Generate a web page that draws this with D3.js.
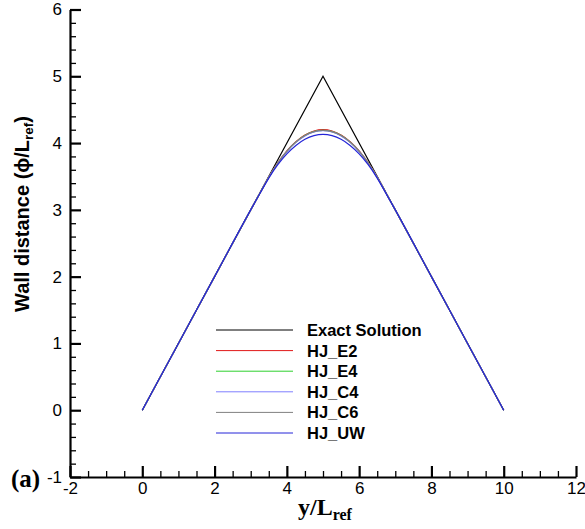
<!DOCTYPE html>
<html>
<head>
<meta charset="utf-8">
<script src="https://cdn.jsdelivr.net/npm/d3@7"></script>
<style>
  html, body { margin: 0; padding: 0; background: #fff; }
  svg { display: block; }
  .tick text { font-family: "Liberation Sans", Arial, sans-serif; font-size: 17px; fill: #000; }
</style>
</head>
<body>
<svg id="chart" width="585" height="529"></svg>
<script>
// Wall distance along y for the ridge test case
const exactX = [0, 5, 10];
const exactPhi = [0, 5, 0];

const gridX = [0, 1, 2, 3, 3.25, 3.5, 3.75, 4, 4.25, 4.5, 4.75, 5, 5.25, 5.5, 5.75, 6, 6.25, 6.5, 6.75, 7, 8, 9, 10];
const phiE2 = [0, 1, 2, 3, 3.245, 3.490, 3.706, 3.884, 4.022, 4.121, 4.180, 4.200, 4.180, 4.121, 4.022, 3.884, 3.706, 3.490, 3.245, 3, 2, 1, 0];
const phiE4 = [0, 1, 2, 3, 3.244, 3.488, 3.702, 3.877, 4.014, 4.112, 4.171, 4.190, 4.171, 4.112, 4.014, 3.877, 3.702, 3.488, 3.244, 3, 2, 1, 0];
const phiC4 = [0, 1, 2, 3, 3.244, 3.487, 3.700, 3.874, 4.010, 4.107, 4.166, 4.185, 4.166, 4.107, 4.010, 3.874, 3.700, 3.487, 3.244, 3, 2, 1, 0];
const phiC6 = [0, 1, 2, 3, 3.244, 3.488, 3.702, 3.877, 4.014, 4.112, 4.171, 4.190, 4.171, 4.112, 4.014, 3.877, 3.702, 3.488, 3.244, 3, 2, 1, 0];
const phiUW = [0, 1, 2, 3, 3.240, 3.476, 3.676, 3.838, 3.964, 4.056, 4.111, 4.130, 4.111, 4.056, 3.964, 3.838, 3.676, 3.476, 3.240, 3, 2, 1, 0];

const seriesNames = ["Exact Solution", "HJ_E2", "HJ_E4", "HJ_C4", "HJ_C6", "HJ_UW"];
const seriesColors = ["#000000", "#e01818", "#2ed02e", "#7f7fff", "#808080", "#2424d8"];

const xMajor = [-2, 0, 2, 4, 6, 8, 10, 12];
const yMajor = [-1, 0, 1, 2, 3, 4, 5, 6];

const svg = d3.select("#chart");
const x = d3.scaleLinear().domain([-2, 12]).range([70, 576]);
const y = d3.scaleLinear().domain([-1, 6]).range([477, 9.5]);

const series = [
  { name: seriesNames[0], color: seriesColors[0], xs: exactX, ys: exactPhi, curve: d3.curveLinear },
  { name: seriesNames[1], color: seriesColors[1], xs: gridX, ys: phiE2, curve: d3.curveMonotoneX },
  { name: seriesNames[2], color: seriesColors[2], xs: gridX, ys: phiE4, curve: d3.curveMonotoneX },
  { name: seriesNames[3], color: seriesColors[3], xs: gridX, ys: phiC4, curve: d3.curveMonotoneX },
  { name: seriesNames[4], color: seriesColors[4], xs: gridX, ys: phiC6, curve: d3.curveMonotoneX },
  { name: seriesNames[5], color: seriesColors[5], xs: gridX, ys: phiUW, curve: d3.curveMonotoneX }
];

// Curves
const plot = svg.append("g");
series.forEach(s => {
  const pts = s.xs.map((v, i) => [v, s.ys[i]]);
  const line = d3.line().x(d => x(d[0])).y(d => y(d[1])).curve(s.curve);
  plot.append("path")
    .attr("d", line(pts))
    .attr("fill", "none")
    .attr("stroke", s.color)
    .attr("stroke-width", 1.2);
});

const plainFormat = d => String(d);

// Minor ticks
const xMinor = d3.range(-2, 12.001, 0.5).filter(v => !xMajor.includes(v));
const yMinor = d3.range(-1, 6.001, 0.2).map(v => Math.round(v * 10) / 10).filter(v => !yMajor.includes(v));

svg.append("g")
  .attr("transform", "translate(0,477)")
  .call(d3.axisBottom(x).tickValues(xMinor).tickSize(-6).tickSizeOuter(0).tickFormat(""))
  .call(g => g.select(".domain").remove())
  .call(g => g.selectAll("line").attr("stroke", "#000").attr("stroke-width", 1.3));

svg.append("g")
  .attr("transform", "translate(70,0)")
  .call(d3.axisLeft(y).tickValues(yMinor).tickSize(-6).tickSizeOuter(0).tickFormat(""))
  .call(g => g.select(".domain").remove())
  .call(g => g.selectAll("line").attr("stroke", "#000").attr("stroke-width", 1.3));

// Major axes
svg.append("g")
  .attr("transform", "translate(0,477)")
  .call(d3.axisBottom(x).tickValues(xMajor).tickSize(-11).tickSizeOuter(0).tickPadding(5).tickFormat(plainFormat))
  .call(g => g.select(".domain").attr("stroke", "#000").attr("stroke-width", 2.2))
  .call(g => g.selectAll("line").attr("stroke", "#000").attr("stroke-width", 2.2))
  .call(g => g.selectAll("text").attr("font-family", null).attr("font-size", null));

svg.append("g")
  .attr("transform", "translate(70,0)")
  .call(d3.axisLeft(y).tickValues(yMajor).tickSize(-11).tickSizeOuter(0).tickPadding(8).tickFormat(plainFormat))
  .call(g => g.select(".domain").attr("stroke", "#000").attr("stroke-width", 2.2))
  .call(g => g.selectAll("line").attr("stroke", "#000").attr("stroke-width", 2.2))
  .call(g => g.selectAll("text").attr("font-family", null).attr("font-size", null));

// Legend
const legend = svg.append("g").attr("transform", "translate(216,330)");
series.forEach((s, i) => {
  const row = legend.append("g").attr("transform", `translate(0,${i * 20.6})`);
  row.append("line").attr("x1", 0).attr("x2", 77).attr("y1", 0).attr("y2", 0)
    .attr("stroke", s.color).attr("stroke-width", 1);
  row.append("text").attr("x", 91).attr("y", 6)
    .attr("font-family", "'Liberation Sans', Arial, sans-serif")
    .attr("font-weight", "bold").attr("font-size", 16.5)
    .text(s.name);
});

// Axis titles
const xt = svg.append("text")
  .attr("x", 298).attr("y", 515)
  .attr("font-family", "'Liberation Serif', 'Times New Roman', serif")
  .attr("font-weight", "bold").attr("font-size", 24);
xt.append("tspan").text("y/L");
xt.append("tspan").attr("font-size", 16).attr("dy", 5).text("ref");

const yt = svg.append("text")
  .attr("transform", "translate(29,312) rotate(-90)")
  .attr("font-family", "'Liberation Sans', Arial, sans-serif")
  .attr("font-weight", "bold").attr("font-size", 20);
yt.append("tspan").text("Wall distance (\u03D5/L");
yt.append("tspan").attr("font-size", 13.5).attr("dy", 4).text("ref");
yt.append("tspan").attr("dy", -4).text(")");

// Panel label
svg.append("text")
  .attr("x", 11).attr("y", 487)
  .attr("font-family", "'Liberation Serif', 'Times New Roman', serif")
  .attr("font-weight", "bold").attr("font-size", 25)
  .text("(a)");
</script>
</body>
</html>
